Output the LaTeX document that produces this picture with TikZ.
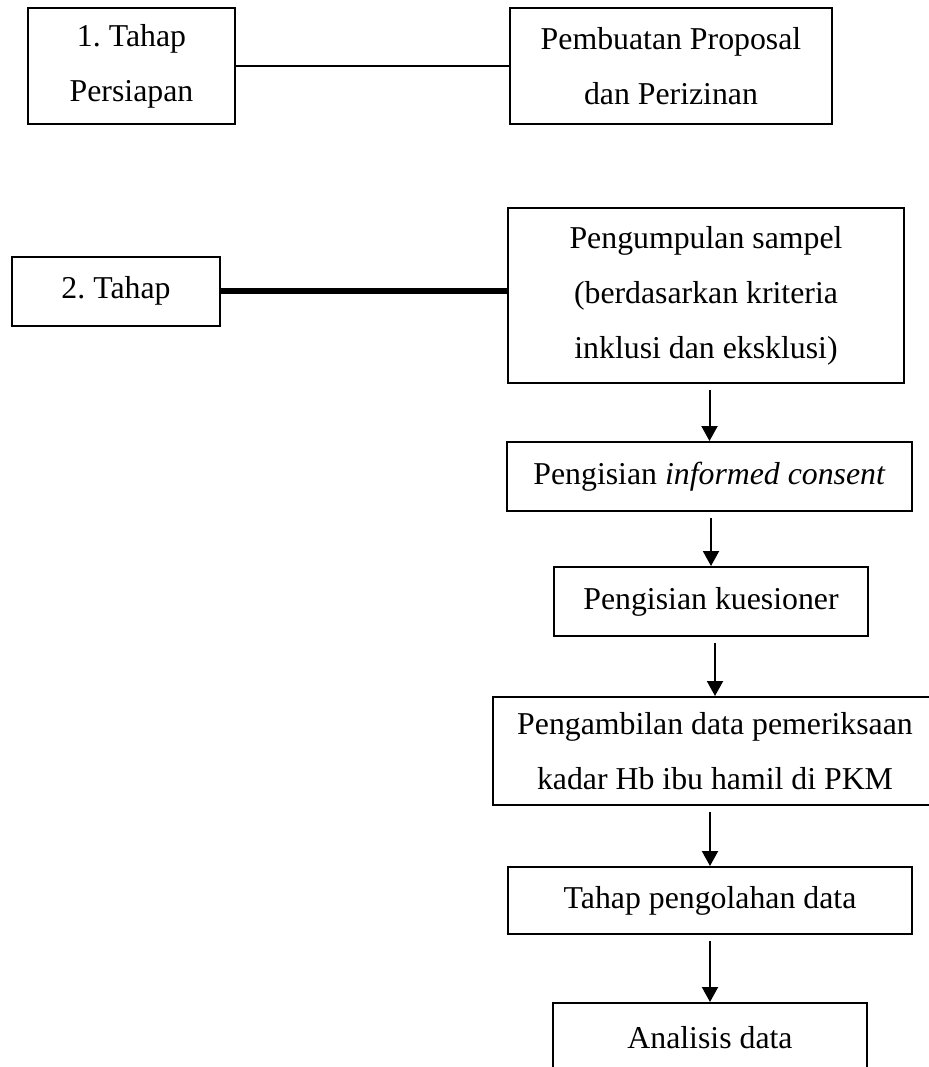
\documentclass[tikz,border=0pt]{standalone}
\usepackage{fontspec}
\setmainfont{Liberation Serif}
\usepackage{tikz}
\usetikzlibrary{arrows.meta, positioning, calc}
\frenchspacing

\begin{document}
\begin{tikzpicture}[
    x=0.5pt, y=-0.5pt,
    box/.style={draw, rectangle, line width=1pt, inner sep=0pt, align=center, font=\fontsize{15.9}{27.5}\selectfont},
    rowbox/.style={box, minimum height=34.5pt},
    link/.style={line width=1pt},
    heavylink/.style={line width=3pt},
    arrow/.style={line width=1pt, shorten <=3pt, -{Triangle[length=7.5pt, width=8pt]}}
]
\useasboundingbox (0,0) rectangle (929,1067);
% tahap persiapan
\node[box, minimum width=103.5pt, minimum height=58pt] (prep) at (131.5,66) {1. Tahap\\Persiapan};
\node[box, minimum width=161pt, minimum height=58pt] (proposal) at (671,66) {Pembuatan Proposal\\dan Perizinan};
\draw[link] (prep) -- (proposal);
% tahap 2
\node[rowbox, minimum width=104pt] (tahap2) at (116,291) {2. Tahap};
\node[box, minimum width=198pt, minimum height=87.5pt] (sampel) at (706,295.5) {Pengumpulan sampel\\(berdasarkan kriteria\\inklusi dan eksklusi)};
\draw[heavylink] (tahap2.east) -- (tahap2.east -| sampel.west);
\node[rowbox, minimum width=202.5pt] (informed) at (709.5,476.5) {Pengisian \textit{informed consent}};
\node[rowbox, minimum width=157pt] (kues) at (711,601.5) {Pengisian kuesioner};
\node[box, minimum width=222pt, minimum height=54pt] (ambil) at (715,751) {Pengambilan data pemeriksaan\\kadar Hb ibu hamil di PKM};
\node[rowbox, minimum width=202pt, minimum height=33.5pt] (olah) at (710,900.5) {Tahap pengolahan data};
\node[rowbox, minimum width=157pt] (analisis) at (710,1037.5) {Analisis data};
\foreach \a/\b in {sampel/informed,informed/kues,kues/ambil,ambil/olah,olah/analisis}
  \draw[arrow] (\b.north |- \a.south) -- (\b.north);
\end{tikzpicture}
\end{document}
